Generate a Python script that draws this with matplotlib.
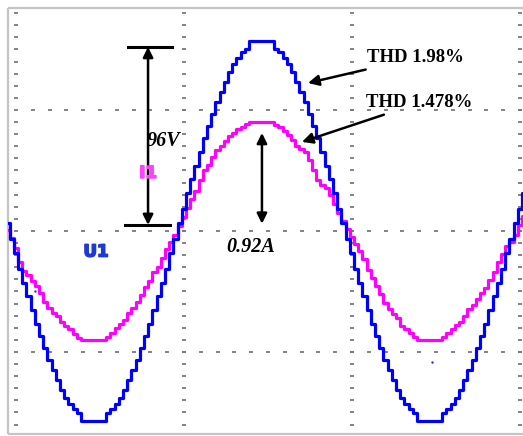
"""
Two-channel scope capture: grid voltage U1 and line current I1,
staircase samples at 0.25 ms, 10 ms/div, with THD callouts.
"""

import numpy as np
import matplotlib
matplotlib.use("Agg")
import matplotlib.pyplot as plt  # noqa: E402
import matplotlib.patheffects as pe  # noqa: E402

# --- acquisition settings ------------------------------------------------
SAMPLE_MS = 0.25        # sample interval
START_MS = -0.5         # time of first sample
VOLTS_PER_DIV = 61.0
AMPS_PER_DIV = 1.02
PX_PER_MS = 16.8        # 168 px per 10 ms division

# --- captured channels ---------------------------------------------------
u1_volts = [
    4, -4, -11, -19, -26, -33, -40, -47, -53, -59, -65, -70, -75, -80, -84,
    -87, -90, -92, -96, -96, -96,
    -96, -96, -96, -92, -90, -87, -84, -80, -75, -70, -65, -59, -53, -47, -40,
    -33, -26, -19, -11, -4, 4, 11, 19, 26, 33, 40, 47, 53, 59, 65, 70, 75, 80,
    84, 87, 90, 92, 96, 96, 96,
    96, 96, 96, 92, 90, 87, 84, 80, 75, 70, 65, 59, 53, 47, 40, 33, 26, 19,
    11, 4, -4, -11, -19, -26, -33, -40, -47, -53, -59, -65, -70, -75, -80, -84,
    -87, -90, -92, -96, -96, -96,
    -96, -96, -96, -92, -90, -87, -84, -80, -75, -70, -65, -59, -53, -47, -40,
    -33, -26, -19, -11, -4, 4, 11, 19,
]

i1_amps = [
    0.01, -0.06, -0.14, -0.26, -0.34, -0.37, -0.42, -0.46, -0.52, -0.60, -0.65,
    -0.69, -0.72, -0.77, -0.80, -0.83, -0.87, -0.90, -0.92, -0.92, -0.92,
    -0.92, -0.92, -0.92, -0.89, -0.86, -0.82, -0.78, -0.75, -0.69, -0.65, -0.60,
    -0.54, -0.47, -0.42, -0.35, -0.30, -0.23, -0.15, -0.09, -0.03, 0.04, 0.12,
    0.19, 0.27, 0.34, 0.43, 0.51, 0.56, 0.62, 0.68, 0.72, 0.76, 0.80, 0.83,
    0.86, 0.88, 0.90, 0.92, 0.92, 0.92,
    0.92, 0.92, 0.92, 0.89, 0.88, 0.84, 0.81, 0.77, 0.72, 0.69, 0.67, 0.60,
    0.51, 0.43, 0.39, 0.36, 0.30, 0.23, 0.15, 0.08, 0.02, -0.05, -0.11, -0.17,
    -0.24, -0.33, -0.40, -0.46, -0.53, -0.61, -0.66, -0.70, -0.73, -0.80, -0.83,
    -0.86, -0.89, -0.92, -0.92, -0.92,
    -0.92, -0.92, -0.92, -0.89, -0.86, -0.83, -0.79, -0.77, -0.72, -0.66, -0.62,
    -0.57, -0.52, -0.48, -0.41, -0.35, -0.26, -0.19, -0.13, -0.09, -0.03, 0.05,
    0.13,
]

# stray display pixels left by the scope (ms, div)
stray_ms = [1.13, 24.76]
stray_div = [-0.50, -1.08]

peak_voltage = 96      # V
peak_current = 0.92    # A
thd_voltage = 1.98     # %
thd_current = 1.478    # %

SERIF = ["Liberation Serif", "DejaVu Serif"]
GRID_GRAY = "#7a7a7a"
FRAME_GRAY = "#c4c4c4"


def draw_scope_grid(ax):
    """Dotted scope graticule: 10 ms/div, minor ticks every 1/10 div."""
    minor_y = np.arange(-17, 19) * 0.1
    for t_div in (0, 10, 20, 30):
        ax.plot(np.full_like(minor_y, t_div), minor_y, ls="none", marker="_",
                ms=3.2, mew=1.3, color=GRID_GRAY, zorder=1)
    minor_t = np.arange(1, 31, 1.0)
    for y_div in (-1, 0, 1):
        ax.plot(minor_t, np.full_like(minor_t, y_div), ls="none", marker="_",
                ms=3.2, mew=1.3, color=GRID_GRAY, zorder=1)


def channel_tag(ax, x, y, label, color):
    ax.text(x, y, label, color=color, fontsize=12, fontweight="heavy",
            family="DejaVu Sans", ha="center", va="center", zorder=6,
            path_effects=[pe.withStroke(linewidth=1.2, foreground=color)])


def main():
    fig = plt.figure(figsize=(5.23, 4.36), dpi=100)
    # axes run well past the right edge of the canvas; open frame on that side
    width_px = 560
    ax = fig.add_axes([8 / 523, 2 / 436, width_px / 523, 426 / 436])
    ax.set_xlim(-0.476, -0.476 + width_px / PX_PER_MS)
    ax.set_ylim(-1.678, 1.843)
    ax.set_axis_off()
    # frame drawn by hand: left, top and bottom edges only
    for xs, ys in (([0, 0], [0, 1]), ([0, 1], [1, 1]), ([0, 1], [0, 0])):
        ax.plot(xs, ys, transform=ax.transAxes, color=FRAME_GRAY, lw=1.6,
                clip_on=False, solid_capstyle="butt", zorder=0)

    draw_scope_grid(ax)

    u1 = np.asarray(u1_volts, dtype=float) / VOLTS_PER_DIV
    i1 = np.asarray(i1_amps, dtype=float) / AMPS_PER_DIV
    t_u = START_MS + SAMPLE_MS * np.arange(len(u1))
    t_i = START_MS + SAMPLE_MS * np.arange(len(i1))

    ax.step(t_i, i1, where="mid", color="#ff00ff", lw=2.3, zorder=3)
    ax.step(t_u, u1, where="mid", color="#0000ff", lw=2.3, zorder=4)
    ax.scatter(stray_ms, stray_div, s=3, color="#2030ff", lw=0, zorder=2)

    channel_tag(ax, 4.76, -0.17, "U1", "#1e3ad6")
    channel_tag(ax, 7.86, 0.48, "I1", "#ff40ff")

    # peak voltage marker
    v_top = 1.521
    v_bot = 0.05
    ax.plot([6.67, 9.29], [v_top, v_top], color="black", lw=2.2, zorder=5)
    ax.plot([6.49, 9.17], [v_bot, v_bot], color="black", lw=2.2, zorder=5)
    ax.annotate("", xy=(7.86, v_top), xytext=(7.86, v_bot),
                arrowprops=dict(arrowstyle="<|-|>", color="black", lw=1.8,
                                mutation_scale=15, shrinkA=0, shrinkB=0),
                zorder=5)
    ax.text(7.8, 0.74, f"{peak_voltage}V", fontsize=14.5, fontweight="bold",
            style="italic", family=SERIF, ha="left", va="center", zorder=6)

    # peak current marker
    ax.annotate("", xy=(14.64, 0.81), xytext=(14.64, 0.06),
                arrowprops=dict(arrowstyle="<|-|>", color="black", lw=1.8,
                                mutation_scale=15, shrinkA=0, shrinkB=0),
                zorder=5)
    ax.text(13.99, -0.13, f"{peak_current}A", fontsize=14.5, fontweight="bold",
            style="italic", family=SERIF, ha="center", va="center", zorder=6)

    # THD callouts
    arrow_kw = dict(arrowstyle="-|>", color="black", lw=1.8,
                    mutation_scale=16, shrinkA=1, shrinkB=0)
    ax.annotate(f"THD {thd_voltage}%", xy=(17.38, 1.223), xytext=(20.89, 1.43),
                fontsize=13.5, fontweight="bold", family=SERIF,
                ha="left", va="center", arrowprops=arrow_kw, zorder=6)
    ax.annotate(f"THD {thd_current}%", xy=(17.02, 0.736), xytext=(20.83, 1.058),
                fontsize=13.5, fontweight="bold", family=SERIF,
                ha="left", va="center", arrowprops=arrow_kw, zorder=6)

    fig.savefig("out.png", dpi=100)
    plt.close(fig)


if __name__ == "__main__":
    main()
